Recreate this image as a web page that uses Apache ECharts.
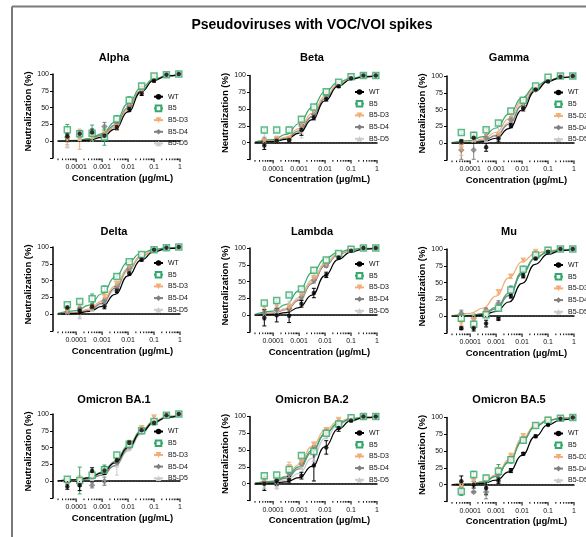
<!DOCTYPE html>
<html><head><meta charset="utf-8">
<script src="https://cdn.jsdelivr.net/npm/echarts@6/dist/echarts.min.js"></script>
<style>html,body{margin:0;padding:0;background:#fff}#c{width:586px;height:537px}</style>
</head><body><div id="c"></div><script>
// ---------------- DATA ----------------
const mainTitle = 'Pseudoviruses with VOC/VOI spikes';
const panelTitles = ['Alpha','Beta','Gamma','Delta','Lambda','Mu','Omicron BA.1','Omicron BA.2','Omicron BA.5'];
const seriesNames = ['WT','B5','B5-D3','B5-D4','B5-D5'];
const concentrations = [0.0000457, 0.000137, 0.000412, 0.00123, 0.0037, 0.0111, 0.0333, 0.1, 0.3, 0.9];
const fitConcentrations = [0.00002, 0.0001, 0.000316, 0.001, 0.00316, 0.01, 0.0316, 0.1, 0.316, 1];
const xTickValues = [0.0001, 0.001, 0.01, 0.1, 1];
const xTickLabels = ['0.0001','0.001','0.01','0.1','1'];
const yTickLabels = ['0','25','50','75','100'];
const xAxisTitle = 'Concentration (\u00b5g/mL)';
const yAxisTitle = 'Neutralization (%)';

// rows: WT, B5, B5-D3, B5-D4, B5-D5
const alphaMean = [
 [7, 11, 13, 8, 21, 48, 71, 90, 99, 100],
 [17, 11, 12, 6, 33, 61, 82, 97, 99, 100],
 [3, 3, 6, 10, 21, 56, 76, 96, 99, 100],
 [6, 9, 12, 22, 26, 52, 78, 95, 99, 100],
 [-6, 5, 8, 12, 25, 52, 78, 95, 99, 100]];
const alphaErr = [
 [4, 4, 5, 5, 4, 4, 3, 2, 1, 0.5],
 [8, 5, 12, 12, 5, 5, 3, 2, 1, 0.5],
 [8, 15, 6, 6, 4, 4, 3, 2, 1, 0.5],
 [4, 4, 4, 6, 4, 3, 3, 2, 1, 0.5],
 [4, 4, 4, 4, 4, 3, 3, 2, 1, 0.5]];
const alphaFit = [
 [0.1, 0.5, 1.7, 5.8, 18.0, 43.7, 73.4, 90.7, 97.2, 99.2],
 [0.3, 1.2, 3.8, 11.2, 28.5, 55.7, 79.9, 92.6, 97.5, 99.2],
 [0.1, 0.7, 2.3, 7.4, 20.8, 47.1, 74.7, 90.9, 97.1, 99.1],
 [0.2, 1.0, 3.1, 9.1, 24.0, 50.0, 76.0, 90.9, 96.9, 99.0],
 [0.2, 1.0, 3.0, 8.7, 23.2, 48.8, 75.2, 90.5, 96.8, 99.0]];

const betaMean = [
 [-4, 3, 4, 19, 38, 65, 84, 96, 100, 100],
 [19, 19, 19, 35, 53, 76, 90, 98, 100, 100],
 [2, 5, 6, 27, 47, 74, 89, 98, 100, 100],
 [4, 3, 5, 25, 42, 71, 88, 97, 100, 100],
 [9, 6, 5, 17, 42, 71, 88, 97, 100, 100]];
const betaErr = [
 [6, 4, 3, 8, 4, 3, 2, 1, 0.5, 0.5],
 [2, 3, 4, 3, 3, 3, 2, 1, 0.5, 0.5],
 [5, 4, 3, 4, 4, 3, 2, 1, 0.5, 0.5],
 [4, 4, 3, 4, 4, 3, 2, 1, 0.5, 0.5],
 [5, 4, 3, 10, 4, 3, 2, 1, 0.5, 0.5]];
const betaFit = [
 [0.3, 1.6, 5.0, 14.2, 34.4, 62.4, 84.0, 94.3, 98.1, 99.4],
 [1.2, 4.7, 12.3, 28.2, 52.6, 75.8, 89.8, 96.1, 98.6, 99.5],
 [0.7, 3.0, 8.3, 21.0, 43.6, 69.3, 86.8, 95.0, 98.2, 99.4],
 [0.5, 2.4, 6.8, 17.8, 39.2, 65.8, 85.2, 94.5, 98.1, 99.3],
 [0.4, 1.9, 5.7, 16.0, 37.6, 65.6, 85.8, 95.0, 98.4, 99.5]];

const gammaMean = [
 [2, 8, -6, 7, 26, 52, 80, 92, 99, 100],
 [16, 12, 20, 30, 48, 64, 85, 98, 100, 100],
 [-8, 10, 15, 12, 42, 60, 83, 96, 100, 100],
 [-10, -10, 8, 10, 35, 55, 80, 95, 100, 100],
 [2, 5, 5, 17, 35, 55, 80, 95, 100, 100]];
const gammaErr = [
 [3, 8, 6, 5, 3, 4, 2, 1, 0.5, 0.5],
 [2, 3, 2, 3, 3, 4, 2, 1, 0.5, 0.5],
 [10, 5, 4, 4, 4, 4, 2, 1, 0.5, 0.5],
 [14, 14, 5, 5, 4, 4, 2, 1, 0.5, 0.5],
 [4, 4, 4, 10, 4, 4, 2, 1, 0.5, 0.5]];
const gammaFit = [
 [0.1, 0.6, 2.2, 7.4, 21.7, 49.4, 77.4, 92.3, 97.7, 99.3],
 [1.0, 4.0, 9.9, 22.6, 43.7, 67.4, 84.6, 93.6, 97.5, 99.0],
 [0.5, 2.1, 6.1, 16.3, 36.5, 63.5, 83.7, 93.9, 97.9, 99.3],
 [0.3, 1.2, 3.8, 11.2, 28.5, 55.7, 79.9, 92.6, 97.5, 99.2],
 [0.3, 1.4, 4.3, 12.4, 30.9, 58.5, 81.7, 93.4, 97.8, 99.3]];

const deltaMean = [
 [10, 5, 11, 12, 35, 61, 81, 96, 99, 100],
 [14, 19, 23, 37, 56, 78, 89, 96, 99, 100],
 [5, 14, 10, 26, 45, 71, 87, 96, 99, 100],
 [3, 8, 10, 20, 41, 68, 86, 96, 99, 100],
 [4, -3, 8, 16, 38, 66, 85, 96, 99, 100]];
const deltaErr = [
 [3, 4, 3, 4, 3, 3, 2, 1, 0.5, 0.5],
 [2, 3, 7, 5, 3, 2, 2, 1, 0.5, 0.5],
 [3, 4, 4, 4, 4, 3, 2, 1, 0.5, 0.5],
 [3, 4, 4, 4, 4, 3, 2, 1, 0.5, 0.5],
 [3, 4, 4, 4, 4, 3, 2, 1, 0.5, 0.5]];
const deltaFit = [
 [0.3, 1.3, 4.0, 11.6, 29.4, 56.9, 80.6, 92.9, 97.7, 99.2],
 [1.3, 5.2, 13.4, 30.4, 55.2, 77.6, 90.7, 96.5, 98.7, 99.5],
 [0.6, 2.6, 7.5, 19.4, 41.9, 68.3, 86.5, 95.0, 98.3, 99.4],
 [0.4, 2.0, 5.9, 16.6, 38.7, 66.6, 86.3, 95.2, 98.4, 99.5],
 [0.4, 1.8, 5.3, 15.1, 36.0, 64.0, 84.9, 94.7, 98.2, 99.4]];

const lambdaMean = [
 [-4, 0, -1, 17, 33, 60, 86, 96, 100, 100],
 [18, 22, 30, 39, 67, 82, 92, 98, 100, 100],
 [12, 15, 12, 31, 55, 76, 90, 98, 100, 100],
 [3, 8, 10, 27, 52, 74, 89, 98, 100, 100],
 [0, 5, 15, 30, 60, 80, 91, 98, 100, 100]];
const lambdaErr = [
 [12, 10, 10, 5, 7, 4, 2, 1, 0.5, 0.5],
 [2, 2, 2, 3, 3, 3, 2, 1, 0.5, 0.5],
 [4, 4, 5, 4, 4, 3, 2, 1, 0.5, 0.5],
 [6, 6, 5, 4, 4, 3, 2, 1, 0.5, 0.5],
 [8, 6, 6, 5, 4, 3, 2, 1, 0.5, 0.5]];
const lambdaFit = [
 [0.2, 1.1, 3.7, 11.4, 30.0, 59.0, 82.8, 94.2, 98.2, 99.4],
 [1.4, 6.1, 16.2, 36.7, 63.3, 83.8, 93.9, 97.9, 99.3, 99.8],
 [0.6, 3.1, 9.1, 24.0, 50.0, 76.0, 90.9, 96.9, 99.0, 99.7],
 [0.6, 2.7, 8.2, 22.0, 47.1, 73.8, 89.9, 96.6, 98.9, 99.6],
 [0.7, 3.4, 10.1, 26.2, 52.9, 78.0, 91.8, 97.3, 99.1, 99.7]];

const muMean = [
 [-18, -18, -11, -4, 30, 60, 86, 96, 100, 100],
 [-3, -12, 2, 12, 39, 70, 91, 98, 100, 100],
 [-11, -6, 5, 36, 59, 83, 96, 99, 100, 100],
 [4, -3, 9, 19, 41, 71, 90, 98, 100, 100],
 [3, 0, 8, 16, 38, 68, 89, 98, 100, 100]];
const muErr = [
 [2, 4, 5, 2, 3, 3, 2, 1, 0.5, 0.5],
 [3, 4, 3, 3, 4, 3, 2, 1, 0.5, 0.5],
 [3, 3, 3, 3, 3, 2, 2, 1, 0.5, 0.5],
 [5, 4, 3, 4, 4, 3, 2, 1, 0.5, 0.5],
 [4, 4, 3, 4, 4, 3, 2, 1, 0.5, 0.5]];
const muFit = [
 [0.1, 0.6, 2.1, 7.0, 21.1, 48.7, 77.1, 92.3, 97.7, 99.3],
 [0.1, 0.8, 3.1, 10.7, 31.1, 62.9, 86.5, 96.0, 98.9, 99.7],
 [0.8, 4.1, 11.9, 29.9, 57.4, 81.0, 93.1, 97.7, 99.3, 99.8],
 [0.2, 1.2, 4.0, 13.0, 34.7, 65.3, 87.0, 96.0, 98.8, 99.7],
 [0.2, 1.0, 3.6, 11.6, 31.9, 62.4, 85.5, 95.4, 98.7, 99.6]];

const ba1Mean = [
 [-8, -6, 15, 16, 31, 57, 76, 87, 98, 100],
 [3, 1, 9, 17, 39, 55, 75, 89, 98, 100],
 [0, 2, 8, 15, 35, 54, 79, 95, 98, 100],
 [2, -2, -6, 0, 28, 52, 77, 90, 98, 100],
 [0, 0, 5, 2, 24, 50, 75, 88, 97, 100]];
const ba1Err = [
 [4, 8, 5, 6, 4, 3, 2, 3, 1, 0.5],
 [2, 20, 4, 7, 3, 3, 2, 2, 1, 0.5],
 [3, 6, 4, 5, 4, 7, 3, 2, 1, 0.5],
 [4, 6, 4, 6, 4, 3, 2, 2, 1, 0.5],
 [4, 5, 4, 8, 15, 4, 2, 2, 1, 0.5]];
const ba1Fit = [
 [0.5, 2.0, 5.0, 12.4, 27.3, 50.0, 72.7, 87.6, 95.0, 98.0],
 [0.6, 2.2, 5.5, 13.5, 29.3, 52.4, 74.6, 88.6, 95.4, 98.2],
 [0.4, 1.7, 4.7, 12.3, 28.2, 52.6, 75.8, 89.8, 96.1, 98.6],
 [0.2, 1.1, 3.3, 9.1, 23.1, 47.3, 72.8, 88.9, 96.0, 98.6],
 [0.3, 1.3, 3.5, 9.3, 22.4, 44.8, 69.6, 86.6, 94.8, 98.1]];

const ba2Mean = [
 [0, 4, 6, 12, 27, 54, 83, 94, 100, 100],
 [12, 13, 21, 42, 48, 75, 89, 98, 100, 100],
 [5, 8, 25, 32, 58, 80, 95, 98, 100, 100],
 [3, 5, 15, 30, 53, 78, 92, 98, 100, 100],
 [-4, -4, 10, 25, 36, 70, 88, 97, 100, 100]];
const ba2Err = [
 [10, 7, 5, 5, 23, 10, 5, 2, 0.5, 0.5],
 [3, 3, 4, 3, 5, 3, 2, 1, 0.5, 0.5],
 [4, 4, 7, 4, 4, 3, 2, 1, 0.5, 0.5],
 [4, 4, 4, 4, 4, 3, 2, 1, 0.5, 0.5],
 [4, 4, 4, 4, 4, 3, 2, 1, 0.5, 0.5]];
const ba2Fit = [
 [0.1, 0.8, 2.7, 8.9, 25.7, 55.0, 81.3, 93.9, 98.2, 99.5],
 [0.8, 3.6, 10.1, 25.0, 50.0, 74.9, 89.9, 96.4, 98.8, 99.6],
 [0.8, 3.8, 11.2, 28.5, 55.7, 79.9, 92.6, 97.5, 99.2, 99.7],
 [0.6, 2.7, 8.2, 22.0, 47.1, 73.8, 89.9, 96.6, 98.9, 99.6],
 [0.3, 1.6, 5.2, 15.5, 38.1, 67.4, 87.4, 95.9, 98.7, 99.6]];

const ba5Mean = [
 [5, 0, -5, 6, 21, 46, 72, 89, 98, 100],
 [-10, 15, 10, 20, 37, 66, 88, 96, 99, 100],
 [-3, 5, 9, 22, 42, 72, 89, 97, 99, 100],
 [-11, -11, -11, 15, 38, 68, 88, 96, 99, 100],
 [0, 5, 8, 18, 38, 66, 87, 96, 99, 100]];
const ba5Err = [
 [8, 5, 10, 4, 3, 2, 2, 1, 1, 0.5],
 [6, 5, 4, 10, 5, 4, 2, 1, 1, 0.5],
 [4, 4, 4, 4, 5, 4, 2, 1, 1, 0.5],
 [1, 1, 10, 4, 4, 3, 2, 1, 1, 0.5],
 [4, 4, 4, 4, 4, 3, 2, 1, 1, 0.5]];
const ba5Fit = [
 [0.1, 0.7, 2.1, 6.7, 19.1, 43.5, 71.6, 89.2, 96.4, 98.9],
 [0.2, 1.1, 3.9, 12.5, 33.5, 64.2, 86.4, 95.7, 98.8, 99.6],
 [0.2, 1.3, 4.6, 14.5, 37.6, 68.1, 88.4, 96.4, 99.0, 99.7],
 [0.2, 1.2, 4.0, 13.0, 34.7, 65.3, 87.0, 96.0, 98.8, 99.7],
 [0.3, 1.4, 4.6, 14.0, 35.3, 64.7, 86.0, 95.4, 98.6, 99.6]];

// ---------------- LAYOUT & STYLE ----------------
const FONT = '"Liberation Sans", Arial, Helvetica, sans-serif';
const panels = [
  [alphaMean, alphaErr, alphaFit], [betaMean, betaErr, betaFit], [gammaMean, gammaErr, gammaFit],
  [deltaMean, deltaErr, deltaFit], [lambdaMean, lambdaErr, lambdaFit], [muMean, muErr, muFit],
  [ba1Mean, ba1Err, ba1Fit], [ba2Mean, ba2Err, ba2Fit], [ba5Mean, ba5Err, ba5Fit]];
const colLefts = [58, 255, 452];
const gridW = 122, gridH = 84;
const panelTops = [[74, 75.5, 76], [247, 248, 249], [414, 416.5, 417.5]];
const titleCenterY = [58, 232, 400];
const titleCenterX = [114, 312, 509];
const legendLefts = [153, 354, 553];
const legendDy = [18.7, 12.5, 12.5, 12, 12, 12, 13.5, 12.5, 12];
const xMin = 0.00002, xMax = 1;
const colors = ['#000000', '#35a96d', '#f2ad74', '#808080', '#cbcbcb'];
const symbols = ['circle', 'rect', 'triangle', 'diamond', 'triangle'];
const symbolRotates = [0, 0, 180, 0, 0];
const symbolSizes = [4.5, 6, 6, 6.5, 5];
const drawOrder = [4, 3, 2, 1, 0];

const minorTicks = [];
for (let e = -5; e <= -1; e++) for (let m = 2; m <= 9; m++) {
  const v = m * Math.pow(10, e);
  if (v >= xMin * 0.999 && v < xMax) minorTicks.push([v, 0]);
}
const majorTicks = xTickValues.map(v => [v, 1]);

function itemStyleFor(s) {
  if (s === 1) return {color: '#ffffff', borderColor: colors[1], borderWidth: 1.5};
  return {color: colors[s], borderWidth: 0};
}
function renderErrorBar(params, api) {
  const x = api.value(0);
  const lo = api.coord([x, api.value(1)]);
  const hi = api.coord([x, api.value(2)]);
  const color = colors[api.value(3)];
  const cap = 2;
  const st = {stroke: color, lineWidth: 1};
  return {type: 'group', children: [
    {type: 'line', shape: {x1: lo[0], y1: lo[1], x2: hi[0], y2: hi[1]}, style: st},
    {type: 'line', shape: {x1: lo[0] - cap, y1: lo[1], x2: lo[0] + cap, y2: lo[1]}, style: st},
    {type: 'line', shape: {x1: hi[0] - cap, y1: hi[1], x2: hi[0] + cap, y2: hi[1]}, style: st}]};
}
function renderTick(params, api) {
  const p = api.coord([api.value(0), -25]);
  const len = api.value(1) ? 4 : 2.2;
  return {type: 'line', shape: {x1: p[0], y1: p[1] + 0.5, x2: p[0], y2: p[1] + len}, style: {stroke: '#000', lineWidth: 1}};
}
function xLabel(v) {
  const e = Math.log10(v);
  const k = Math.round(e);
  if (Math.abs(e - k) > 1e-6) return '';
  const idx = xTickValues.findIndex(t => Math.abs(Math.log10(t) - k) < 1e-6);
  return idx >= 0 ? xTickLabels[idx] : '';
}
function yLabel(v) {
  return v < 0 ? '' : (yTickLabels[Math.round(v / 25)] || '');
}

const option = {animation: false, textStyle: {fontFamily: FONT},
  grid: [], xAxis: [], yAxis: [], series: [], legend: [], graphic: []};

option.graphic.push({type: 'line', shape: {x1: 12, y1: 6.5, x2: 586, y2: 6.5}, style: {stroke: '#7a7a7a', lineWidth: 2}, silent: true});
option.graphic.push({type: 'line', shape: {x1: 12, y1: 6.5, x2: 12, y2: 537}, style: {stroke: '#7a7a7a', lineWidth: 2}, silent: true});
option.graphic.push({type: 'text', x: 312, y: 25, style: {text: mainTitle, align: 'center', verticalAlign: 'middle', font: 'bold 14px ' + FONT, fill: '#000'}, silent: true});

panels.forEach(([mean, err, fit], i) => {
  const r = Math.floor(i / 3), c = i % 3;
  const top = panelTops[r][c];
  option.graphic.push({type: 'text', x: titleCenterX[c], y: titleCenterY[r], style: {text: panelTitles[i], align: 'center', verticalAlign: 'middle', font: 'bold 11px ' + FONT, fill: '#000'}, silent: true});
  option.grid.push({left: colLefts[c], top: top, width: gridW, height: gridH});
  option.xAxis.push({type: 'log', logBase: 10, gridIndex: i, min: xMin, max: xMax,
    axisLine: {show: true, lineStyle: {color: '#000', width: 1.5}},
    axisTick: {show: false}, splitLine: {show: false}, minorTick: {show: false},
    axisLabel: {formatter: xLabel, fontSize: 7, color: '#111', margin: 6, showMinLabel: true, hideOverlap: false},
    name: xAxisTitle, nameLocation: 'middle', nameGap: 15,
    nameTextStyle: {fontSize: 9.5, fontWeight: 'bold', color: '#000', padding: [0, 0, 0, 7]}});
  option.yAxis.push({type: 'value', gridIndex: i, min: -25, max: 100, interval: 25, offset: 5,
    axisLine: {show: true, lineStyle: {color: '#000', width: 1.5}},
    axisTick: {show: true, length: 3, lineStyle: {color: '#000', width: 1}},
    splitLine: {show: false},
    axisLabel: {formatter: yLabel, fontSize: 7, color: '#111', margin: 4},
    name: yAxisTitle, nameLocation: 'middle', nameGap: 20,
    nameTextStyle: {fontSize: 9.5, fontWeight: 'bold', color: '#000', padding: [0, 0, 0, 9]}});

  drawOrder.forEach((s, j) => {
    const ser = {type: 'line', name: seriesNames[s], xAxisIndex: i, yAxisIndex: i,
      data: fitConcentrations.map((x, k) => [x, fit[s][k]]),
      smooth: 0.5, smoothMonotone: 'x', showSymbol: false,
      symbol: symbols[s], symbolRotate: symbolRotates[s], symbolSize: symbolSizes[s],
      lineStyle: {color: colors[s], width: 1.2}, itemStyle: itemStyleFor(s), z: 2, silent: true};
    if (j === 0) ser.markLine = {silent: true, symbol: 'none', label: {show: false},
      lineStyle: {type: [1, 2], color: '#222', width: 0.9}, data: [{yAxis: 0}]};
    option.series.push(ser);
  });
  const errData = [];
  drawOrder.forEach(s => concentrations.forEach((x, k) => errData.push([x, mean[s][k] - err[s][k], mean[s][k] + err[s][k], s])));
  option.series.push({type: 'custom', xAxisIndex: i, yAxisIndex: i, data: errData, renderItem: renderErrorBar,
    encode: {x: 0, y: [1, 2]}, z: 3, silent: true, clip: false});
  option.series.push({type: 'custom', xAxisIndex: i, yAxisIndex: i, data: minorTicks.concat(majorTicks), renderItem: renderTick,
    encode: {x: 0}, z: 5, silent: true, clip: false});
  drawOrder.forEach(s => option.series.push({type: 'scatter', name: seriesNames[s], xAxisIndex: i, yAxisIndex: i,
    data: concentrations.map((x, k) => [x, mean[s][k]]),
    symbol: symbols[s], symbolRotate: symbolRotates[s], symbolSize: symbolSizes[s],
    itemStyle: itemStyleFor(s), z: 4, silent: true}));
  option.legend.push({data: seriesNames.slice(), orient: 'vertical', left: legendLefts[c], top: top + legendDy[i],
    itemWidth: 9, itemHeight: 7, itemGap: 3.7, padding: 0, selectedMode: false,
    textStyle: {fontSize: 7, color: '#111', lineHeight: 8}});
});

const chart = echarts.init(document.getElementById('c'), null, {renderer: 'canvas'});
chart.setOption(option);
</script></body></html>
